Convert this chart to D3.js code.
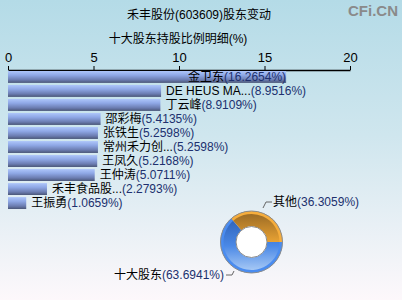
<!DOCTYPE html>
<html>
<head>
<meta charset="utf-8">
<script src="https://cdn.jsdelivr.net/npm/d3@7"></script>
<style>
  body { margin: 0; padding: 0; overflow: hidden; }
  svg { display: block; }
  text { font-family: "Liberation Sans", "Noto Sans CJK SC", sans-serif; }
</style>
</head>
<body>
<div id="chart"></div>
<script>
const holders = ["金卫东", "DE HEUS MA...", "丁云峰", "邵彩梅", "张铁生", "常州禾力创...", "王凤久", "王仲涛", "禾丰食品股...", "王振勇"];
const shares = [16.2654, 8.9516, 8.9109, 5.4135, 5.2598, 5.2598, 5.2168, 5.0711, 2.2793, 1.0659];
const xTicks = [0, 5, 10, 15, 20];
const pieNames = ["十大股东", "其他"];
const pieValues = [63.6941, 36.3059];

const W = 402, H = 300;
const svg = d3.select("#chart").append("svg")
    .attr("width", W)
    .attr("height", H);

const defs = svg.append("defs");

// background
const bg = defs.append("linearGradient").attr("id", "bg")
    .attr("x1", 0).attr("y1", 0).attr("x2", 0).attr("y2", 1);
bg.append("stop").attr("offset", "0%").attr("stop-color", "#b4dbe7");
bg.append("stop").attr("offset", "45%").attr("stop-color", "#cfe6ee");
bg.append("stop").attr("offset", "100%").attr("stop-color", "#fdf8fb");
svg.append("rect").attr("width", W).attr("height", H).attr("fill", "url(#bg)");

// bar gradient
const bar = defs.append("linearGradient").attr("id", "barGrad")
    .attr("x1", 0).attr("y1", 0).attr("x2", 0).attr("y2", 1);
bar.append("stop").attr("offset", "0%").attr("stop-color", "#aec6fa");
bar.append("stop").attr("offset", "35%").attr("stop-color", "#8fa8e6");
bar.append("stop").attr("offset", "75%").attr("stop-color", "#6b7cb0");
bar.append("stop").attr("offset", "100%").attr("stop-color", "#4a5677");

// titles
svg.append("text")
    .attr("x", 199).attr("y", 19)
    .attr("text-anchor", "middle")
    .style("font-size", "12px")
    .text("禾丰股份(603609)股东变动");

svg.append("text")
    .attr("x", 178).attr("y", 43)
    .attr("text-anchor", "middle")
    .style("font-size", "12px")
    .text("十大股东持股比例明细(%)");

svg.append("text")
    .attr("x", 398).attr("y", 16)
    .attr("text-anchor", "end")
    .attr("fill", "#8a8a8a")
    .style("font-size", "15px")
    .style("font-weight", "bold")
    .text("CFi.CN");

// bar chart
const x = d3.scaleLinear().domain([0, 20]).range([8, 350]);
const y = d3.scaleBand().domain(holders).range([70, 210])
    .paddingInner(0.15).paddingOuter(0.07);

const axis = svg.append("g")
    .attr("transform", "translate(0,70)")
    .call(d3.axisTop(x).tickValues(xTicks).tickSize(4).tickSizeOuter(0).tickFormat(d3.format("d")));
axis.select(".domain").attr("stroke", "#000").attr("stroke-width", 1.5);
axis.selectAll(".tick line").attr("stroke", "#000");
axis.selectAll(".tick text")
    .attr("fill", "#000")
    .style("font-size", "13px")
    .attr("dy", "-0.1em");

svg.append("g").selectAll("rect")
    .data(holders)
    .enter().append("rect")
    .attr("x", x(0))
    .attr("y", d => y(d))
    .attr("width", (d, i) => x(shares[i]) - x(0))
    .attr("height", y.bandwidth())
    .attr("fill", "url(#barGrad)");

const labels = svg.append("g").selectAll("text")
    .data(holders)
    .enter().append("text")
    .attr("y", d => y(d) + y.bandwidth() / 2)
    .attr("dy", "0.36em")
    .style("font-size", "12px");
labels.append("tspan").attr("fill", "#000").text(d => d);
labels.append("tspan").attr("fill", "#20306e").text((d, i) => "(" + shares[i].toFixed(4) + "%)");
labels.each(function (d, i) {
    const t = d3.select(this);
    const end = x(shares[i]);
    const w = this.getComputedTextLength();
    if (end + 5 + w > 352) {
        t.attr("x", end).attr("text-anchor", "end");
    } else {
        t.attr("x", end + 5);
    }
});

// donut
const cx = 251.5, cy = 242, rOut = 31, rIn = 15.5;
const g = svg.append("g").attr("transform", `translate(${cx},${cy})`);

const blueG = defs.append("linearGradient").attr("id", "blueGrad")
    .attr("x1", 0).attr("y1", 0).attr("x2", 0).attr("y2", 1);
blueG.append("stop").attr("offset", "0%").attr("stop-color", "#2e62b8");
blueG.append("stop").attr("offset", "50%").attr("stop-color", "#4a88e6");
blueG.append("stop").attr("offset", "100%").attr("stop-color", "#b0cff6");
const orangeG = defs.append("linearGradient").attr("id", "orangeGrad")
    .attr("x1", 0).attr("y1", 0).attr("x2", 0).attr("y2", 1);
orangeG.append("stop").attr("offset", "0%").attr("stop-color", "#946624");
orangeG.append("stop").attr("offset", "100%").attr("stop-color", "#e8a233");

const pie = d3.pie().sort(null).value(d => d)
    .startAngle(Math.PI / 2).endAngle(Math.PI / 2 + 2 * Math.PI);
const arcs = pie(pieValues);
const fills = ["url(#blueGrad)", "url(#orangeGrad)"];
const rims = ["#4a8cf0", "#f6ad3c"];

g.selectAll("path.slice")
    .data(arcs)
    .enter().append("path")
    .attr("class", "slice")
    .attr("d", d3.arc().innerRadius(rIn).outerRadius(rOut))
    .attr("fill", (d, i) => fills[i]);

g.selectAll("path.rim")
    .data(arcs)
    .enter().append("path")
    .attr("class", "rim")
    .attr("d", d3.arc().innerRadius(rOut - 3).outerRadius(rOut))
    .attr("fill", (d, i) => rims[i]);

g.append("circle").attr("r", rOut).attr("fill", "none").attr("stroke", "#8c8c8c").attr("stroke-width", 1);
g.append("circle").attr("r", rIn).attr("fill", "#fff").attr("stroke", "#8c8c8c").attr("stroke-width", 1);

// leader lines and pie labels
const leaders = [
    { pts: [[234, 271], [232, 275], [226, 275]], x: 224, y: 275, anchor: "end" },
    { pts: [[263, 208], [266, 202], [272, 202]], x: 273, y: 202, anchor: "start" }
];
leaders.forEach((l, i) => {
    svg.append("path")
        .attr("d", d3.line()(l.pts))
        .attr("fill", "none")
        .attr("stroke", "#666")
        .attr("stroke-width", 1);
    const t = svg.append("text")
        .attr("x", l.x).attr("y", l.y)
        .attr("dy", "0.36em")
        .attr("text-anchor", l.anchor)
        .style("font-size", "12px");
    t.append("tspan").attr("fill", "#000").text(pieNames[i]);
    t.append("tspan").attr("fill", "#20306e").text("(" + pieValues[i].toFixed(4) + "%)");
});
</script>
</body>
</html>
